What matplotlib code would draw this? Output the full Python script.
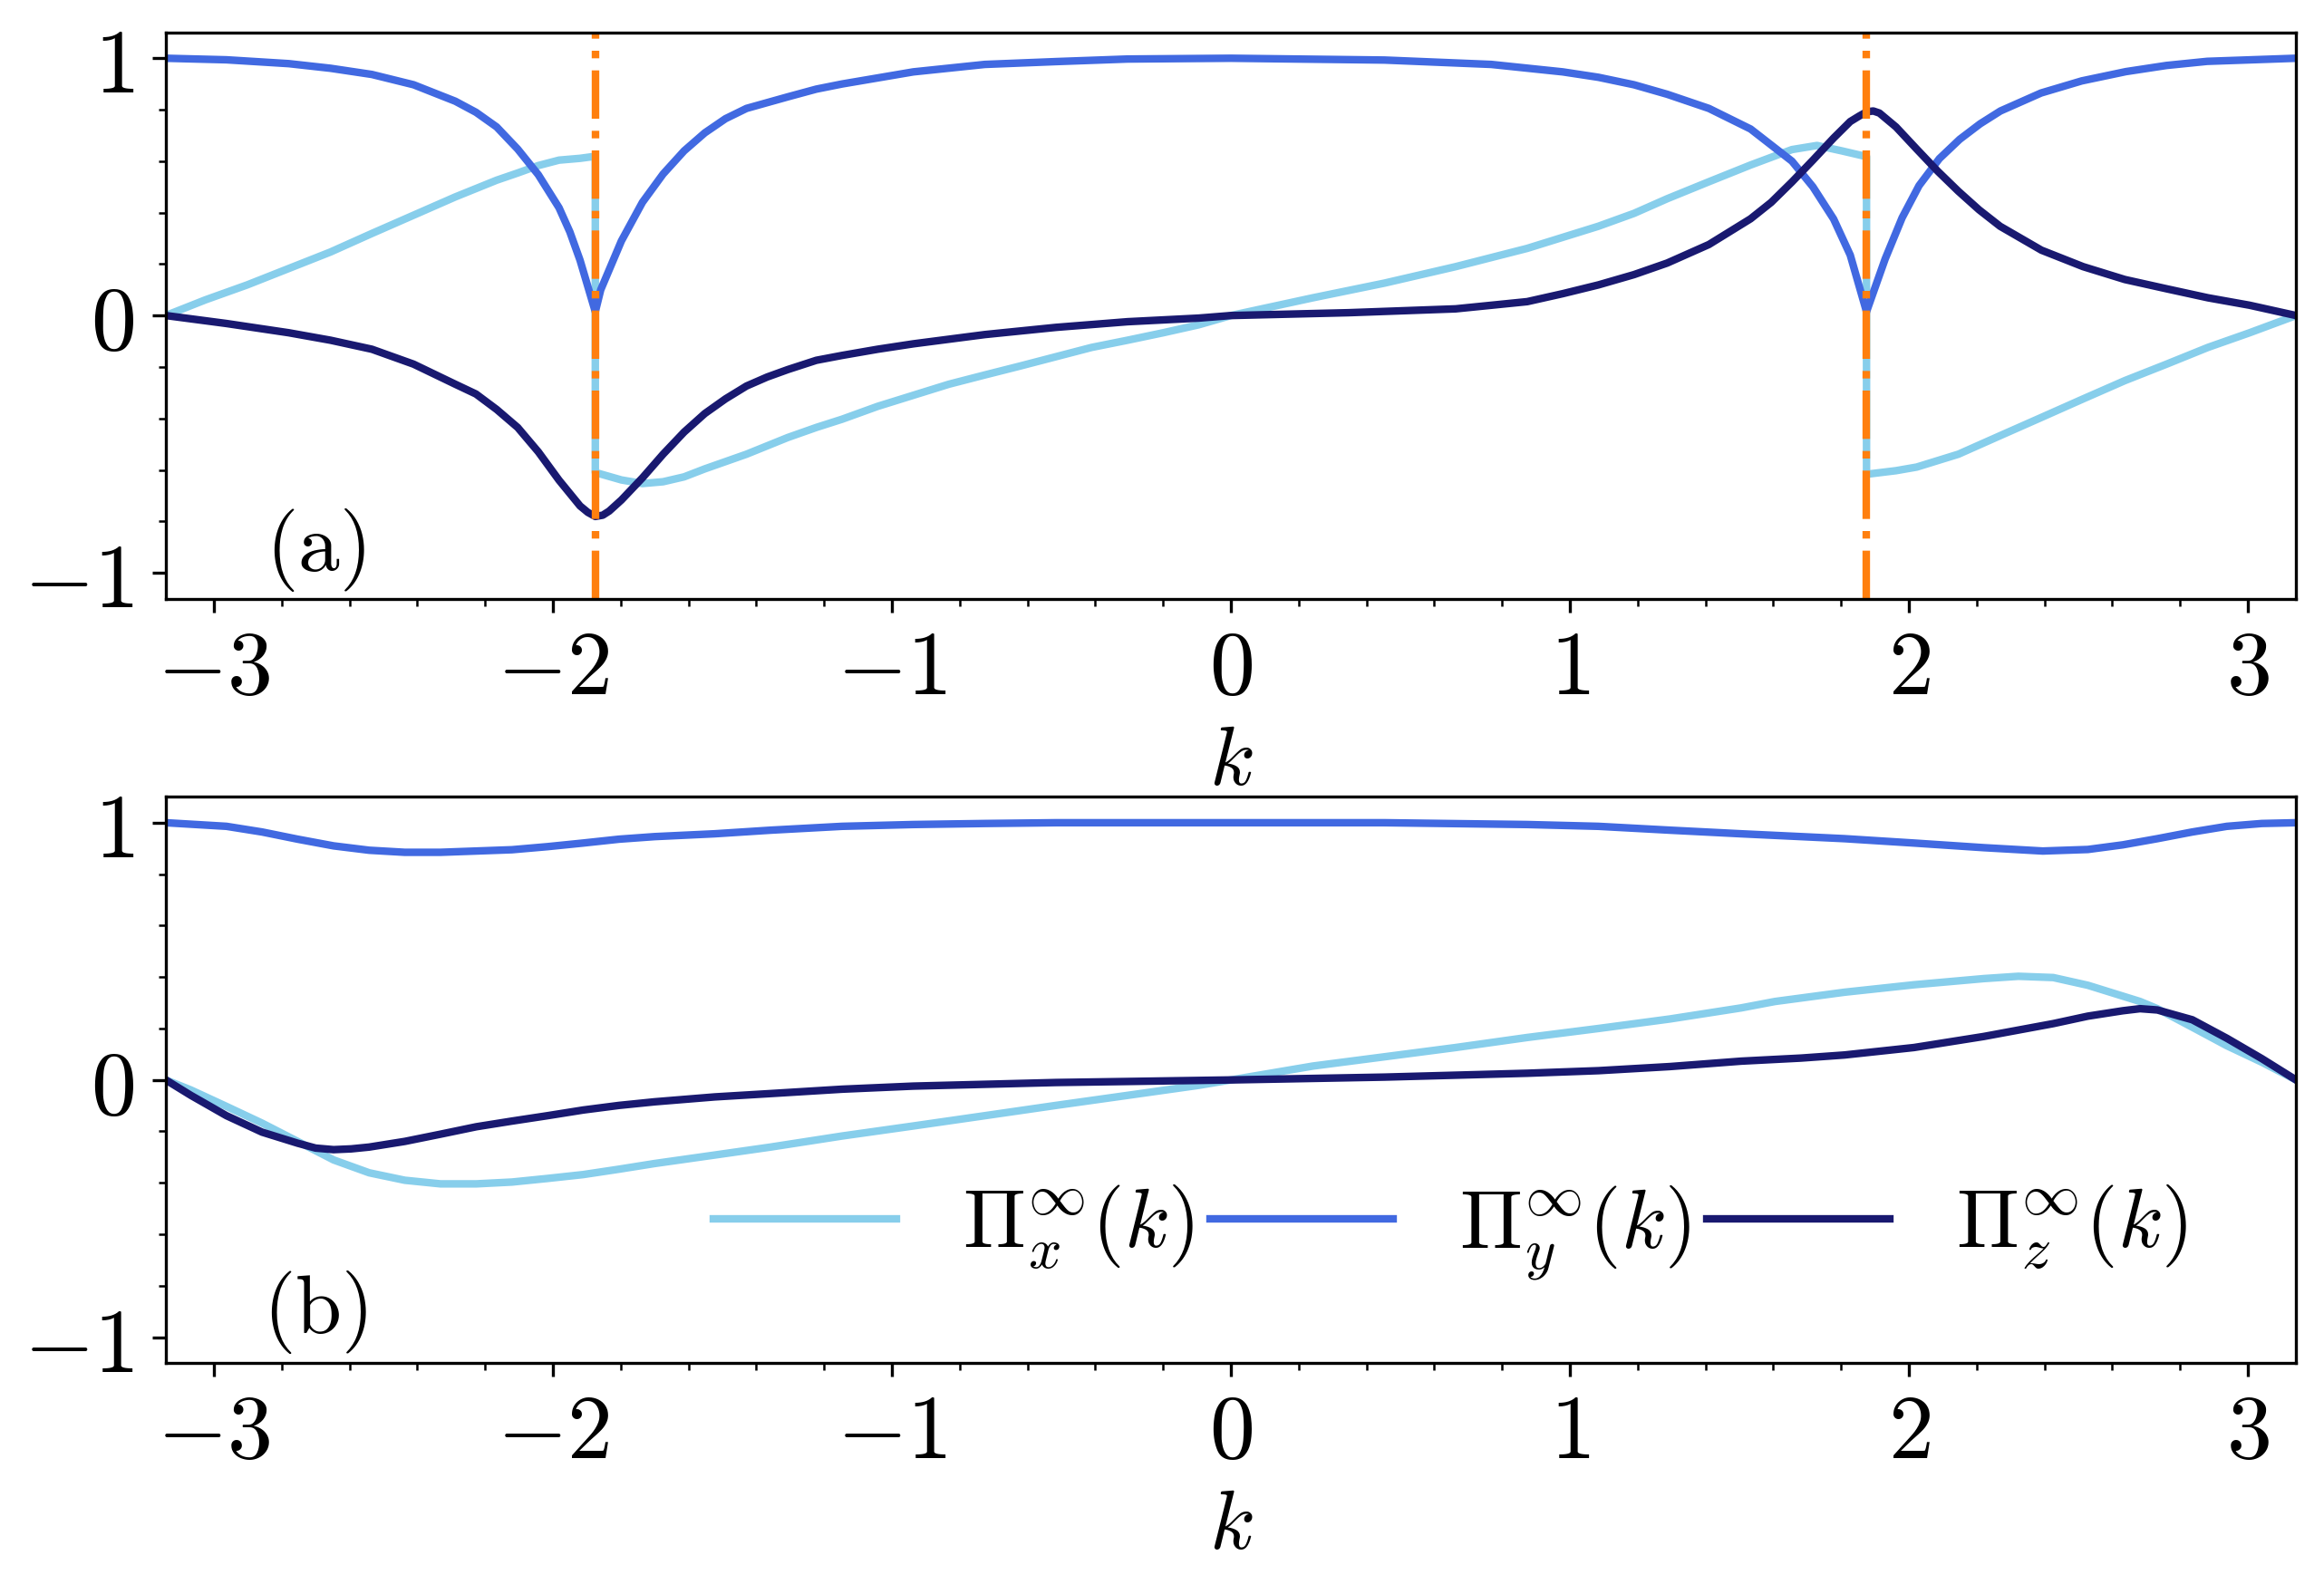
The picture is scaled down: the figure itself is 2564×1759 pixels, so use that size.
import numpy as np
import matplotlib.pyplot as plt
from matplotlib.ticker import MultipleLocator, FixedLocator, FuncFormatter

plt.rcParams['mathtext.fontset'] = 'cm'
plt.rcParams['font.size'] = 22

# panel (a): values
ka_x = [-3.142, -3.025, -2.902, -2.779, -2.656, -2.534, -2.411, -2.288, -2.166, -2.104, -2.043, -1.982,
        -1.920, -1.875, -1.875, -1.798, -1.736, -1.675, -1.613, -1.552, -1.429, -1.307, -1.223, -1.147,
        -1.042, -0.937, -0.832, -0.726, -0.621, -0.516, -0.411, -0.305, -0.200, -0.095, 0.0,
        0.242, 0.453, 0.663, 0.874, 1.084, 1.189, 1.287, 1.410, 1.533, 1.655, 1.729, 1.802, 1.864,
        1.875, 1.875, 1.962, 2.023, 2.146, 2.269, 2.391, 2.514, 2.637, 2.760, 2.882, 3.005, 3.142]
pa_x = [0.0, 0.061, 0.119, 0.183, 0.247, 0.319, 0.39, 0.461, 0.526, 0.554, 0.583, 0.604,
        0.611, 0.619, -0.61, -0.639, -0.653, -0.646, -0.627, -0.596, -0.539, -0.474, -0.435, -0.403,
        -0.353, -0.31, -0.267, -0.231, -0.196, -0.16, -0.124, -0.096, -0.067, -0.036, 0.0,
        0.069, 0.126, 0.19, 0.261, 0.347, 0.397, 0.454, 0.52, 0.585, 0.645, 0.661, 0.64, 0.621,
        0.618, -0.617, -0.603, -0.589, -0.539, -0.467, -0.396, -0.324, -0.253, -0.189, -0.124, -0.067, 0.0]

ka_y = [-3.142, -2.963, -2.779, -2.656, -2.534, -2.411, -2.288, -2.227, -2.166, -2.104, -2.043, -1.982,
        -1.950, -1.920, -1.875, -1.859, -1.798, -1.736, -1.675, -1.613, -1.552, -1.491, -1.429, -1.307,
        -1.223, -1.147, -0.937, -0.726, -0.516, -0.305, 0.0, 0.453, 0.768, 0.979, 1.084, 1.189,
        1.287, 1.410, 1.533, 1.655, 1.717, 1.778, 1.827, 1.875, 1.930, 1.980, 2.030, 2.090, 2.150,
        2.210, 2.270, 2.390, 2.510, 2.640, 2.760, 2.880, 3.142]
pa_y = [1.0, 0.994, 0.979, 0.961, 0.937, 0.897, 0.833, 0.79, 0.733, 0.647, 0.547, 0.419,
        0.325, 0.215, 0.015, 0.10, 0.29, 0.44, 0.55, 0.64, 0.71, 0.765, 0.805, 0.85,
        0.88, 0.9, 0.947, 0.976, 0.987, 0.997, 1.0, 0.993, 0.976, 0.947, 0.926, 0.897,
        0.86, 0.805, 0.725, 0.60, 0.50, 0.375, 0.235, 0.015, 0.22, 0.38, 0.505, 0.61, 0.685,
        0.745, 0.795, 0.865, 0.912, 0.948, 0.972, 0.988, 1.0]

ka_z = [-3.142, -2.963, -2.779, -2.656, -2.534, -2.411, -2.288, -2.227, -2.166, -2.104, -2.043, -1.982,
        -1.920, -1.897, -1.875, -1.853, -1.834, -1.798, -1.736, -1.675, -1.613, -1.552, -1.491, -1.429,
        -1.368, -1.307, -1.223, -1.147, -1.042, -0.937, -0.726, -0.516, -0.305, -0.095, 0.0,
        0.347, 0.663, 0.874, 0.979, 1.084, 1.189, 1.287, 1.410, 1.533, 1.594, 1.655, 1.717, 1.778,
        1.827, 1.853, 1.876, 1.895, 1.913, 1.962, 2.023, 2.085, 2.146, 2.207, 2.269, 2.391, 2.514,
        2.637, 2.760, 2.882, 3.005, 3.142]
pa_z = [0.0, -0.031, -0.067, -0.096, -0.131, -0.189, -0.267, -0.305, -0.365, -0.435, -0.53, -0.64,
        -0.74, -0.765, -0.781, -0.776, -0.76, -0.717, -0.631, -0.539, -0.453, -0.381, -0.324, -0.274,
        -0.239, -0.21, -0.174, -0.155, -0.131, -0.11, -0.074, -0.046, -0.024, -0.01, 0.0,
        0.011, 0.026, 0.054, 0.085, 0.119, 0.159, 0.204, 0.276, 0.376, 0.44, 0.519, 0.604, 0.69,
        0.754, 0.775, 0.792, 0.795, 0.787, 0.733, 0.647, 0.561, 0.483, 0.411, 0.347, 0.254, 0.19,
        0.14, 0.104, 0.069, 0.04, 0.0]

k_crit = [-1.875, 1.875]

# panel (b)
kb_x = [-3.142, -3.068, -2.963, -2.858, -2.753, -2.647, -2.542, -2.437, -2.332, -2.226, -2.121, -2.016,
        -1.911, -1.805, -1.700, -1.523, -1.358, -1.147, -0.937, -0.726, -0.516, -0.305, -0.095, 0.0,
        0.242, 0.453, 0.663, 0.874, 1.084, 1.295, 1.505, 1.605, 1.810, 2.015, 2.221, 2.323, 2.426,
        2.528, 2.682, 2.733, 2.836, 2.938, 3.041, 3.142]
pb_x = [0.0, -0.039, -0.103, -0.168, -0.239, -0.311, -0.361, -0.39, -0.404, -0.404, -0.397, -0.383,
        -0.368, -0.347, -0.325, -0.292, -0.261, -0.218, -0.179, -0.139, -0.099, -0.06, -0.021, 0.0,
        0.054, 0.09, 0.126, 0.165, 0.2, 0.237, 0.28, 0.305, 0.341, 0.37, 0.394, 0.403, 0.398,
        0.368, 0.305, 0.277, 0.205, 0.133, 0.069, 0.0]

kb_y = [-3.142, -2.963, -2.858, -2.753, -2.647, -2.542, -2.437, -2.332, -2.226, -2.121, -2.016, -1.911,
        -1.805, -1.700, -1.523, -1.358, -1.147, -0.937, -0.726, -0.516, 0.0, 0.453, 0.874, 1.084,
        1.295, 1.505, 1.682, 1.810, 2.015, 2.221, 2.395, 2.528, 2.631, 2.733, 2.836, 2.938, 3.041, 3.142]
pb_y = [1.0, 0.986, 0.964, 0.936, 0.91, 0.893, 0.885, 0.885, 0.89, 0.895, 0.907, 0.921,
        0.936, 0.946, 0.957, 0.971, 0.986, 0.993, 0.997, 1.0, 1.0, 1.0, 0.993, 0.986,
        0.971, 0.957, 0.946, 0.938, 0.921, 0.903, 0.89, 0.896, 0.914, 0.938, 0.964, 0.986, 0.997, 1.0]

kb_z = [-3.142, -3.068, -2.963, -2.858, -2.753, -2.700, -2.647, -2.595, -2.542, -2.437, -2.332, -2.226,
        -2.121, -2.016, -1.911, -1.805, -1.700, -1.523, -1.358, -1.147, -0.937, -0.726, -0.516, -0.305,
        0.0, 0.453, 0.874, 1.084, 1.295, 1.505, 1.682, 1.810, 2.015, 2.221, 2.426, 2.528, 2.631,
        2.682, 2.733, 2.836, 2.938, 3.041, 3.142]
pb_z = [0.0, -0.06, -0.139, -0.203, -0.246, -0.265, -0.271, -0.268, -0.261, -0.239, -0.211, -0.182,
        -0.16, -0.139, -0.117, -0.099, -0.085, -0.066, -0.053, -0.036, -0.024, -0.017, -0.01, -0.006,
        0.0, 0.011, 0.026, 0.036, 0.052, 0.073, 0.085, 0.097, 0.126, 0.169, 0.219, 0.248, 0.269,
        0.277, 0.272, 0.234, 0.162, 0.083, 0.0]

labels = [r'$\Pi_x^\infty(k)$', r'$\Pi_y^\infty(k)$', r'$\Pi_z^\infty(k)$']
colors = ['skyblue', 'royalblue', 'midnightblue']

fig = plt.figure(figsize=(2564 / 300, 1759 / 300), dpi=300)
ax1 = fig.add_axes([0.0714, 0.6245, 0.9165, 0.3551])
ax2 = fig.add_axes([0.0714, 0.1450, 0.9165, 0.3550])

math_fmt = FuncFormatter(lambda v, p: r'$%d$' % round(v))

def style(ax):
    ax.set_xlim(-np.pi, np.pi)
    ax.set_ylim(-1.1, 1.1)
    ax.xaxis.set_major_locator(FixedLocator([-3, -2, -1, 0, 1, 2, 3]))
    ax.xaxis.set_minor_locator(MultipleLocator(0.2))
    ax.yaxis.set_major_locator(FixedLocator([-1, 0, 1]))
    ax.yaxis.set_minor_locator(MultipleLocator(0.2))
    ax.xaxis.set_major_formatter(math_fmt)
    ax.yaxis.set_major_formatter(math_fmt)
    ax.tick_params(which='major', labelsize=24)
    ax.tick_params(axis='y', which='major', pad=5)
    ax.set_xlabel(r'$k$', labelpad=2)

lw = 2.0
ax1.plot(ka_x, pa_x, color=colors[0], lw=lw)
ax1.plot(ka_y, pa_y, color=colors[1], lw=lw)
ax1.plot(ka_z, pa_z, color=colors[2], lw=lw)
for kc in k_crit:
    ax1.axvline(kc, color='#ff7f0e', ls='-.', lw=2)
ax1.text(0.07, 0.085, r'$\mathrm{(a)}$', transform=ax1.transAxes, ha='center', va='center')
style(ax1)

ax2.plot(kb_x, pb_x, color=colors[0], lw=lw, label=labels[0])
ax2.plot(kb_y, pb_y, color=colors[1], lw=lw, label=labels[1])
ax2.plot(kb_z, pb_z, color=colors[2], lw=lw, label=labels[2])
ax2.text(0.07, 0.09, r'$\mathrm{(b)}$', transform=ax2.transAxes, ha='center', va='center')
ax2.legend(loc='center', bbox_to_anchor=(0.603, 0.23), ncol=3, frameon=False,
           handlelength=2.2, handletextpad=0.8, columnspacing=0.2)
style(ax2)

fig.savefig('out.png', dpi=300)
